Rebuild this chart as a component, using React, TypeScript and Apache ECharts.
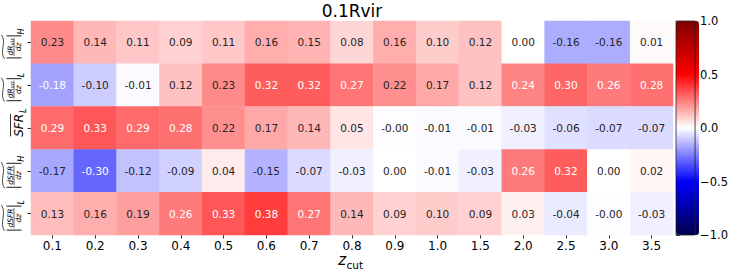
import React, { useEffect, useRef } from 'react';
import * as echarts from 'echarts';

const titleText = '0.1Rvir';
const zCuts = ['0.1', '0.2', '0.3', '0.4', '0.5', '0.6', '0.7', '0.8', '0.9', '1.0', '1.5', '2.0', '2.5', '3.0', '3.5'];
const rowKeys = ['dRvir_H', 'dRvir_L', 'SFR_L', 'dSFR_H', 'dSFR_L'];

const rowDRvirH = [0.23, 0.14, 0.11, 0.09, 0.11, 0.16, 0.15, 0.08, 0.16, 0.10, 0.12, 0.00, -0.16, -0.16, 0.01];
const rowDRvirL = [-0.18, -0.10, -0.01, 0.12, 0.23, 0.32, 0.32, 0.27, 0.22, 0.17, 0.12, 0.24, 0.30, 0.26, 0.28];
const rowSFRL = [0.29, 0.33, 0.29, 0.28, 0.22, 0.17, 0.14, 0.05, -0.004, -0.01, -0.01, -0.03, -0.06, -0.07, -0.07];
const rowDSFRH = [-0.17, -0.30, -0.12, -0.09, 0.04, -0.15, -0.07, -0.03, 0.00, -0.01, -0.03, 0.26, 0.32, 0.00, 0.02];
const rowDSFRL = [0.13, 0.16, 0.19, 0.26, 0.33, 0.38, 0.27, 0.14, 0.09, 0.10, 0.09, 0.03, -0.04, -0.004, -0.03];
const rows = [rowDRvirH, rowDRvirL, rowSFRL, rowDSFRH, rowDSFRL];

const cbarMin = -1;
const cbarMax = 1;
const cbarStep = 0.5;

// matplotlib "seismic" colormap stops
const seismicStops: [number, number, number][] = [
  [0, 0, 0.3],
  [0, 0, 1],
  [1, 1, 1],
  [1, 0, 0],
  [0.5, 0, 0],
];
const toHex = (c: [number, number, number]) =>
  '#' + c.map((v) => Math.round(v * 255).toString(16).padStart(2, '0')).join('');

function seismic(t: number): [number, number, number] {
  const s = Math.min(Math.max(t, 0), 1) * (seismicStops.length - 1);
  const i = Math.min(Math.floor(s), seismicStops.length - 2);
  const f = s - i;
  const a = seismicStops[i];
  const b = seismicStops[i + 1];
  return [a[0] + (b[0] - a[0]) * f, a[1] + (b[1] - a[1]) * f, a[2] + (b[2] - a[2]) * f];
}

// seaborn annotation colour rule (luminance of the 256-entry LUT colour)
function annotColor(v: number) {
  const norm = (v - cbarMin) / (cbarMax - cbarMin);
  const idx = Math.min(255, Math.max(0, Math.floor(norm * 256)));
  const c = seismic(idx / 255);
  const lin = c.map((x) => (x <= 0.03928 ? x / 12.92 : Math.pow((x + 0.055) / 1.055, 2.4)));
  const lum = 0.2126 * lin[0] + 0.7152 * lin[1] + 0.0722 * lin[2];
  return lum > 0.408 ? '#262626' : '#ffffff';
}

const FONT = 'DejaVu Sans, sans-serif';
const INK = '#000000';

function txt(text: string, x: number, y: number, size: number, italic: boolean, align = 'center') {
  return {
    type: 'text',
    x,
    y,
    style: {
      text,
      fontSize: size,
      fontFamily: FONT,
      fontStyle: italic ? 'italic' : 'normal',
      fill: INK,
      align,
      verticalAlign: 'middle',
      textAlign: align,
      textVerticalAlign: 'middle',
    },
  };
}
function ln(x1: number, y1: number, x2: number, y2: number, w = 0.8) {
  return { type: 'line', shape: { x1, y1, x2, y2 }, style: { stroke: INK, lineWidth: w } };
}
function tilde(x1: number, x2: number, y: number) {
  const w = x2 - x1;
  return {
    type: 'bezierCurve',
    shape: { x1, y1: y + 1.5, x2, y2: y - 1.5, cpx1: x1 + w * 0.33, cpy1: y - 4, cpx2: x1 + w * 0.67, cpy2: y + 4 },
    style: { stroke: INK, lineWidth: 0.7, fill: null },
  };
}

function fracLabel(kind: 'R' | 'S', sub: string) {
  const ch: any[] = [];
  const hw = kind === 'R' ? 9 : 10;
  if (kind === 'R') {
    ch.push(txt('dR', -8.5, -4, 7.5, true, 'left'));
    ch.push(txt('vir', 1.5, -2.5, 5.5, true, 'left'));
  } else {
    ch.push(txt('dSFR', 0, -4, 7.5, true, 'center'));
  }
  ch.push(ln(-hw, 0, hw, 0, 0.6));
  ch.push(txt('dz', 0, 4.5, 7.5, true, 'center'));
  ch.push(ln(-hw - 2, -7.5, -hw - 2, 7.5, 0.9));
  ch.push(ln(hw + 2, -7.5, hw + 2, 7.5, 0.9));
  ch.push(txt(sub, hw + 3.5, 7, 8, true, 'left'));
  ch.push(tilde(-hw - 3, hw + 3, -11));
  return ch;
}

function sfrLabel() {
  return [
    txt('SFR', 0, 0, 12, true, 'center'),
    ln(-11, -8, 11.5, -8, 0.8),
    txt('L', 12.5, 4.5, 8.5, true, 'left'),
  ];
}

export default function App() {
  const ref = useRef<HTMLDivElement>(null);
  useEffect(() => {
    document.body.style.margin = '0';
    const chart = echarts.init(ref.current!, null, { renderer: 'svg' });
    const data: any[] = [];
    rows.forEach((r, y) =>
      r.forEach((v, x) => {
        data.push({ value: [x, y, v], label: { color: annotColor(v) } });
      })
    );
    const fmt = (v: number) => {
      const s = v.toFixed(2);
      return s;
    };
    chart.setOption({
      animation: false,
      title: {
        text: titleText,
        left: 352,
        top: 2,
        textAlign: 'center',
        padding: 0,
        textStyle: { fontFamily: FONT, fontSize: 17, fontWeight: 'normal', color: INK },
      },
      grid: [
        { left: 31, top: 21, width: 642, height: 214, containLabel: false },
        {
          left: 676,
          top: 21,
          width: 23,
          height: 214,
          show: true,
          borderColor: '#222',
          borderWidth: 0.8,
          backgroundColor: 'transparent',
          z: 10,
        },
      ],
      xAxis: [
        {
          type: 'category',
          data: zCuts,
          gridIndex: 0,
          axisLine: { show: false },
          axisTick: { show: true, alignWithLabel: true, length: 3.5, lineStyle: { color: INK, width: 0.8 } },
          axisLabel: { fontFamily: FONT, fontSize: 12, color: INK, margin: 5 },
          splitLine: { show: false },
        },
        { type: 'value', gridIndex: 1, show: false, min: 0, max: 1 },
      ],
      yAxis: [
        {
          type: 'category',
          data: rowKeys,
          gridIndex: 0,
          inverse: true,
          axisLine: { show: false },
          axisTick: { show: true, alignWithLabel: true, length: 3.5, lineStyle: { color: INK, width: 0.8 } },
          axisLabel: { show: false },
          splitLine: { show: false },
        },
        {
          type: 'value',
          gridIndex: 1,
          position: 'right',
          min: cbarMin,
          max: cbarMax,
          interval: cbarStep,
          axisLine: { show: false },
          axisTick: { show: true, length: 3.5, lineStyle: { color: INK, width: 0.8 } },
          axisLabel: {
            fontFamily: FONT,
            fontSize: 11.5,
            color: INK,
            margin: 5,
            formatter: (v: number) => (v < 0 ? '\u2212' : '') + Math.abs(v).toFixed(1),
          },
          splitLine: { show: false },
        },
      ],
      visualMap: {
        type: 'continuous',
        min: cbarMin,
        max: cbarMax,
        dimension: 2,
        seriesIndex: 0,
        calculable: false,
        hoverLink: false,
        left: 676,
        top: 21,
        itemWidth: 23,
        itemHeight: 214,
        padding: 0,
        inRange: { color: seismicStops.map(toHex) },
      },
      series: [
        {
          type: 'heatmap',
          xAxisIndex: 0,
          yAxisIndex: 0,
          data,
          itemStyle: { borderWidth: 0 },
          emphasis: { disabled: true },
          label: {
            show: true,
            fontFamily: FONT,
            fontSize: 10.5,
            formatter: (p: any) => fmt(p.value[2]),
          },
        },
      ],
    });

    const centers = rowKeys.map((_, i) => (chart.convertToPixel({ xAxisIndex: 0, yAxisIndex: 0 }, [0, i]) as number[])[1]);
    const xFirst = (chart.convertToPixel({ xAxisIndex: 0, yAxisIndex: 0 }, [0, 0]) as number[])[0];
    const xLast = (chart.convertToPixel({ xAxisIndex: 0, yAxisIndex: 0 }, [zCuts.length - 1, 0]) as number[])[0];
    const cx = (xFirst + xLast) / 2;

    const labelDefs = [
      { children: fracLabel('R', 'H'), gx: 14, dy: 4.5 },
      { children: fracLabel('R', 'L'), gx: 14, dy: 4.5 },
      { children: sfrLabel(), gx: 18.5, dy: -2.6 },
      { children: fracLabel('S', 'H'), gx: 14, dy: 4.5 },
      { children: fracLabel('S', 'L'), gx: 14, dy: 4.5 },
    ];
    const graphics: any[] = labelDefs.map((d, i) => ({
      type: 'group',
      x: d.gx,
      y: centers[i] + d.dy,
      rotation: Math.PI / 2,
      children: d.children,
    }));
    graphics.push(txt('z', cx - 6, 260, 15, true, 'right'));
    graphics.push(txt('cut', cx - 5.5, 264.5, 10.5, false, 'left'));
    chart.setOption({ graphic: graphics });

    return () => chart.dispose();
  }, []);
  return <div ref={ref} style={{ width: 731, height: 273 }} />;
}
